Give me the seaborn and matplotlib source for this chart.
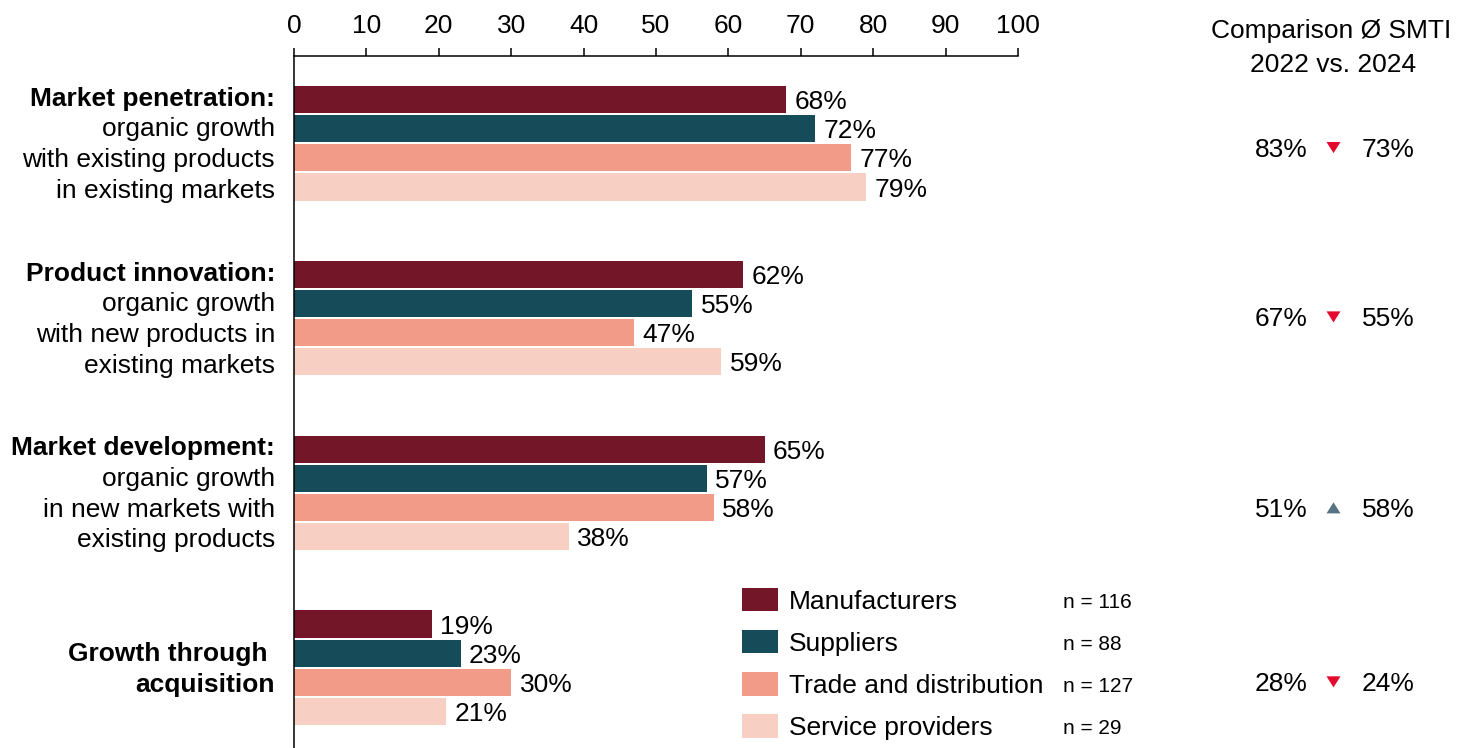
import matplotlib
matplotlib.use("Agg")
import matplotlib.pyplot as plt
import numpy as np
import pandas as pd
import seaborn as sns
from matplotlib.path import Path

# ---- data -------------------------------------------------------------
segments = ["Manufacturers", "Suppliers", "Trade and distribution", "Service providers"]
segment_n = [116, 88, 127, 29]

manufacturers = [68, 62, 65, 19]
suppliers = [72, 55, 57, 23]
trade_distribution = [77, 47, 58, 30]
service_providers = [79, 59, 38, 21]

strategy_lines = [
    ["Market penetration:", "organic growth", "with existing products", "in existing markets"],
    ["Product innovation:", "organic growth", "with new products in", "existing markets"],
    ["Market development:", "organic growth", "in new markets with", "existing products"],
    ["Growth through ", "acquisition"],
]
strategy_bold_lines = [1, 1, 1, 2]

smti_2022 = [83, 67, 51, 28]
smti_2024 = [73, 55, 58, 24]

# ---- style ------------------------------------------------------------
segment_colors = ["#721628", "#164B59", "#F29B89", "#F8D0C3"]
trend_colors = {"down": "#E30A2D", "up": "#587482"}
FS = 19

sns.set_style("white")
plt.rcParams["font.family"] = ["Liberation Sans", "DejaVu Sans"]
plt.rcParams["text.color"] = "black"

W, H = 1457, 748
fig = plt.figure(figsize=(W / 100, H / 100), dpi=100)
fig.patch.set_facecolor("white")

GROUP_STEP = 6  # bar slots per strategy block (4 bars + gap)
Y_LIMITS = (22.25, -1.49)
ax_top = 1 - 56 / H
ax = fig.add_axes([294 / W, 0, (1018 - 294) / W, ax_top])

series = [manufacturers, suppliers, trade_distribution, service_providers]
records = []
for g in range(len(strategy_lines)):
    for s, seg in enumerate(segments):
        records.append({"segment": seg, "value": series[s][g], "pos": g * GROUP_STEP + s})
df = pd.DataFrame(records)

sns.barplot(
    data=df, x="value", y="pos", hue="segment", hue_order=segments,
    palette=segment_colors, orient="h", native_scale=True, dodge=False,
    width=0.94, linewidth=0, saturation=1, ax=ax,
)

# value labels at the end of each bar
for _, r in df.iterrows():
    ax.annotate(f"{r['value']}%", xy=(r["value"], r["pos"]), xytext=(6.0, -7),
                textcoords="offset points", ha="left", va="baseline", fontsize=FS)

ax.set_xlim(0, 100)
ax.set_ylim(*Y_LIMITS)
ax.set_xticks(range(0, 101, 10))
ax.xaxis.tick_top()
ax.tick_params(axis="x", top=True, bottom=False, labeltop=True, labelbottom=False,
               direction="out", length=5.8, width=1.1, pad=7.5, labelsize=FS,
               colors="black")
ax.set_yticks([])
ax.set_xlabel("")
ax.set_ylabel("")
for side in ("right", "bottom"):
    ax.spines[side].set_visible(False)
for side in ("top", "left"):
    ax.spines[side].set_visible(True)
    ax.spines[side].set_color("black")
    ax.spines[side].set_linewidth(1.1)

# strategy labels to the left of the bars
LINE_PITCH_PX = 30.7
PX_TO_PT = 72 / 100
for g, lines in enumerate(strategy_lines):
    center = g * GROUP_STEP + 1.5
    n = len(lines)
    for k, line in enumerate(lines):
        down_px = (k - (n - 1) / 2) * LINE_PITCH_PX + 8.5
        ax.annotate(line, xy=(0, center), xycoords=ax.get_yaxis_transform(),
                    xytext=(-13.6, -down_px * PX_TO_PT), textcoords="offset points",
                    ha="right", va="baseline", fontsize=FS,
                    fontweight="bold" if k < strategy_bold_lines[g] else "normal",
                    annotation_clip=False)

# legend with sample sizes
handles, labels = ax.get_legend_handles_labels()
if ax.get_legend() is not None:
    ax.get_legend().remove()
leg = ax.legend(handles, labels, loc="upper left",
                bbox_to_anchor=(741.7 / W, 1 - 588 / H), bbox_transform=fig.transFigure,
                frameon=False, fontsize=FS, handlelength=1.36, handleheight=0.985,
                handletextpad=0.42, labelspacing=0.62, borderpad=0, borderaxespad=0)

fig.canvas.draw()
for t, n in zip(leg.get_texts(), segment_n):
    bb = t.get_window_extent()
    yc = (bb.y0 + bb.y1) / 2
    fig.text(1063 / W, yc / H - 1.0 / H, f"n = {n}", ha="left", va="center", fontsize=15)

# comparison column
ax2 = fig.add_axes([1200 / W, 0, (W - 1200) / W, ax_top])
ax2.set_xlim(1200, W)
ax2.set_ylim(*Y_LIMITS)
ax2.axis("off")

fig.text(1331 / W, 1 - 38.3 / H, "Comparison Ø SMTI", ha="center", va="baseline", fontsize=FS)
fig.text(1333 / W, 1 - 71.7 / H, "2022 vs. 2024", ha="center", va="baseline", fontsize=FS)

row_baselines = [1.96, 7.77, 14.32, 20.29]
cmp = pd.DataFrame({
    "old": smti_2022, "new": smti_2024, "row": row_baselines,
})
cmp["trend"] = np.where(cmp["new"] < cmp["old"], "down", "up")
cmp["marker_y"] = cmp["row"] - 9 / 29.14
cmp["marker_x"] = 1333.5

for _, r in cmp.iterrows():
    ax2.text(1281, r["row"], f"{r['old']}%", ha="center", va="baseline", fontsize=FS)
    ax2.text(1388, r["row"], f"{r['new']}%", ha="center", va="baseline", fontsize=FS)

tri_down = Path([(-1, 0.79), (1, 0.79), (0, -0.79), (-1, 0.79)],
                [Path.MOVETO, Path.LINETO, Path.LINETO, Path.CLOSEPOLY])
tri_up = Path([(-1, -0.79), (1, -0.79), (0, 0.79), (-1, -0.79)],
              [Path.MOVETO, Path.LINETO, Path.LINETO, Path.CLOSEPOLY])
sns.scatterplot(data=cmp, x="marker_x", y="marker_y", hue="trend", style="trend",
                palette=trend_colors, markers={"down": tri_down, "up": tri_up},
                s=102, linewidth=0, legend=False, ax=ax2)
ax2.set_xlim(1200, W)
ax2.set_ylim(*Y_LIMITS)
ax2.axis("off")

fig.savefig("out.png", dpi=100, facecolor="white")
